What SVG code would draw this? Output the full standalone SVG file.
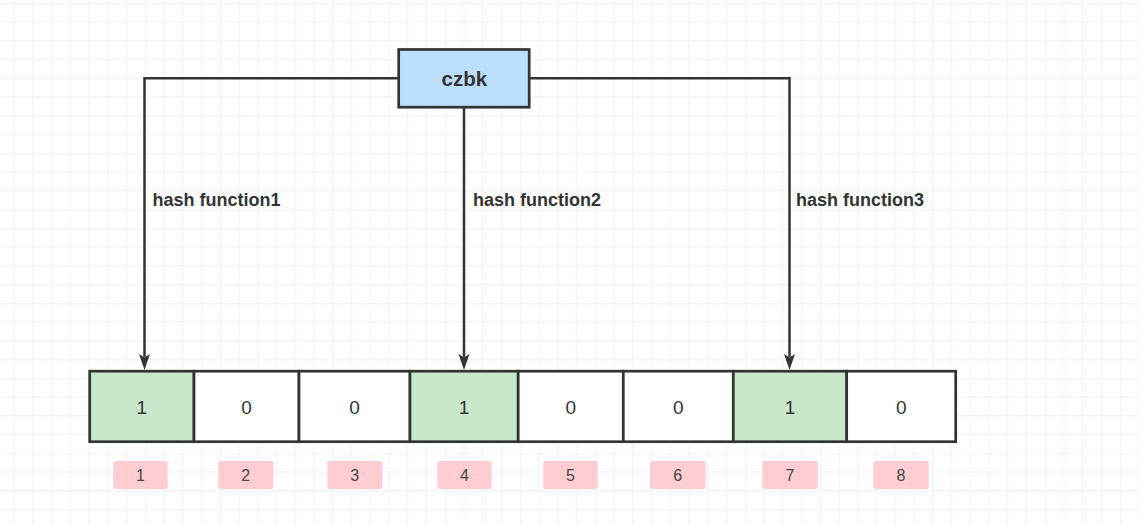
<svg xmlns="http://www.w3.org/2000/svg" width="1139" height="524" viewBox="0 0 1139 524">
  <defs>
    <pattern id="grid" patternUnits="userSpaceOnUse" x="70.3" y="3.3" width="75" height="75">
      <path d="M18.75 0V75M37.5 0V75M56.25 0V75M0 18.75H75M0 37.5H75M0 56.25H75" fill="none" stroke="#f0f0f0" stroke-width="1"/>
      <path d="M0 0V75M0 0H75" fill="none" stroke="#e4e4e4" stroke-width="1"/>
    </pattern>
    <style>
      .cell { stroke: #333333; stroke-width: 2.7; }
      .on { fill: #c8e6c9; }
      .off { fill: #ffffff; }
      .val { font-family: "Liberation Sans", Arial, sans-serif; font-size: 19px; fill: #333333; text-anchor: middle; }
      .idx { fill: #ffcdd2; }
      .idxt { font-family: "Liberation Sans", Arial, sans-serif; font-size: 16px; fill: #444444; text-anchor: middle; }
      .lbl { font-family: "Liberation Sans", Arial, sans-serif; font-size: 18px; font-weight: bold; fill: #333333; }
      .conn { fill: none; stroke: #333333; stroke-width: 2.5; }
      .head { fill: #333333; }
    </style>
  </defs>
  <rect width="1139" height="524" fill="#ffffff"/>
  <rect width="1139" height="524" fill="url(#grid)"/>

  <g id="connectors">
    <path class="conn" d="M398.7 78.3H144.5V357"/>
    <path class="head" d="M144.5 370L139 354L144.5 357.5L150 354Z"/>
    <path class="conn" d="M464 107.2V357"/>
    <path class="head" d="M464 370L458.5 354L464 357.5L469.5 354Z"/>
    <path class="conn" d="M529.2 78.3H789.5V357"/>
    <path class="head" d="M789.5 370L784 354L789.5 357.5L795 354Z"/>
    <text class="lbl" x="152.5" y="206">hash function1</text>
    <text class="lbl" x="473" y="206">hash function2</text>
    <text class="lbl" x="796" y="206">hash function3</text>
  </g>

  <g id="czbk">
    <rect x="398.7" y="49.5" width="130.5" height="57.7" fill="#bbdefb" stroke="#333333" stroke-width="2.7"/>
    <text x="464.3" y="85.7" font-family="Liberation Sans, Arial, sans-serif" font-size="20.5" font-weight="bold" fill="#333333" text-anchor="middle">czbk</text>
  </g>

  <g id="cell1"><rect class="cell on" x="89.7" y="371.2" width="104.3" height="70.5"/><text class="val" x="141.8" y="414">1</text></g>
  <g id="cell2"><rect class="cell off" x="194" y="371.2" width="105" height="70.5"/><text class="val" x="246.5" y="414">0</text></g>
  <g id="cell3"><rect class="cell off" x="299" y="371.2" width="111" height="70.5"/><text class="val" x="354.5" y="414">0</text></g>
  <g id="cell4"><rect class="cell on" x="410" y="371.2" width="108.2" height="70.5"/><text class="val" x="464" y="414">1</text></g>
  <g id="cell5"><rect class="cell off" x="518.2" y="371.2" width="105.1" height="70.5"/><text class="val" x="570.7" y="414">0</text></g>
  <g id="cell6"><rect class="cell off" x="623.3" y="371.2" width="110" height="70.5"/><text class="val" x="678.3" y="414">0</text></g>
  <g id="cell7"><rect class="cell on" x="733.3" y="371.2" width="113.4" height="70.5"/><text class="val" x="790" y="414">1</text></g>
  <g id="cell8"><rect class="cell off" x="846.7" y="371.2" width="109" height="70.5"/><text class="val" x="901.2" y="414">0</text></g>

  <g id="idx1"><rect class="idx" x="113.3" y="461" width="54.4" height="28" rx="2"/><text class="idxt" x="140.5" y="481">1</text></g>
  <g id="idx2"><rect class="idx" x="218.3" y="461" width="55" height="28" rx="2"/><text class="idxt" x="245.8" y="481">2</text></g>
  <g id="idx3"><rect class="idx" x="327.3" y="461" width="55" height="28" rx="2"/><text class="idxt" x="354.8" y="481">3</text></g>
  <g id="idx4"><rect class="idx" x="437.3" y="461" width="54.4" height="28" rx="2"/><text class="idxt" x="464.5" y="481">4</text></g>
  <g id="idx5"><rect class="idx" x="543.3" y="461" width="54.4" height="28" rx="2"/><text class="idxt" x="570.5" y="481">5</text></g>
  <g id="idx6"><rect class="idx" x="650" y="461" width="55.7" height="28" rx="2"/><text class="idxt" x="677.8" y="481">6</text></g>
  <g id="idx7"><rect class="idx" x="762.3" y="461" width="55.4" height="28" rx="2"/><text class="idxt" x="790" y="481">7</text></g>
  <g id="idx8"><rect class="idx" x="873.3" y="461" width="55.4" height="28" rx="2"/><text class="idxt" x="901" y="481">8</text></g>
</svg>
